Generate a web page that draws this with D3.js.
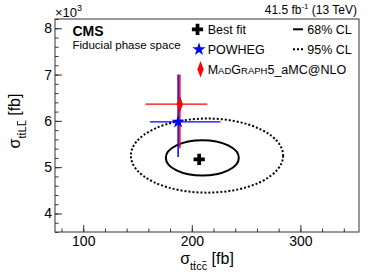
<!DOCTYPE html>
<html>
<head>
<meta charset="utf-8">
<script src="https://cdn.jsdelivr.net/npm/d3@7"></script>
<style>
    body { margin: 0; background: #fff; }
    svg { display: block; font-family: 'Liberation Sans', Arial, sans-serif; }
</style>
</head>
<body>
<svg id="chart" width="374" height="280"></svg>
<script>
// values (x: sigma ttcc in fb, y: sigma ttLL in 10^3 fb)
const xTicks = [100, 200, 300];
const yTicks = [4, 5, 6, 7, 8];

const bestFitX = [206.8];
const bestFitY = [5.17];

const genNames = ['POWHEG', 'MadGraph5_aMC@NLO'];
const genX = [187.4, 189.0];
const genY = [5.98, 6.36];
const genXLo = [161.4, 157.4];
const genXHi = [226.4, 214.3];
const genYLo = [5.22, 5.41];
const genYHi = [7.0, 7.0];

const clNames = ['68% CL', '95% CL'];
const clCx = [209.7, 214.0];
const clCy = [5.20, 5.25];
const clRx = [33.6, 70.1];
const clRy = [0.38, 0.80];

const svg = d3.select('#chart');
const W = 374, H = 280;
const m = {left: 55, right: 15, top: 19, bottom: 48};

const x = d3.scaleLinear().domain([74, 354]).range([m.left, W - m.right]);
const y = d3.scaleLinear().domain([3.6, 8.2]).range([H - m.bottom, m.top]);

const axisColor = '#333';

// frame
svg.append('rect')
    .attr('x', m.left).attr('y', m.top)
    .attr('width', W - m.right - m.left).attr('height', H - m.bottom - m.top)
    .attr('fill', 'none').attr('stroke', axisColor).attr('stroke-width', 1);

// axes, ticks pointing inwards
function styleAxis(g) {
    g.select('.domain').remove();
    g.selectAll('line').attr('stroke', axisColor);
}

svg.append('g')
    .attr('transform', 'translate(0,' + (H - m.bottom) + ')')
    .call(d3.axisBottom(x).tickValues(d3.range(80, 354, 20)).tickSize(-3.5).tickFormat(''))
    .call(styleAxis);
svg.append('g')
    .attr('transform', 'translate(0,' + (H - m.bottom) + ')')
    .call(d3.axisBottom(x).tickValues(xTicks).tickSize(-7).tickPadding(4))
    .call(styleAxis)
    .call(g => g.selectAll('text').attr('font-size', 14).attr('fill', '#000'));

svg.append('g')
    .attr('transform', 'translate(' + m.left + ',0)')
    .call(d3.axisLeft(y).tickValues(d3.range(3.6, 8.21, 0.2)).tickSize(-3.5).tickFormat(''))
    .call(styleAxis);
svg.append('g')
    .attr('transform', 'translate(' + m.left + ',0)')
    .call(d3.axisLeft(y).tickValues(yTicks).tickSize(-7).tickPadding(3).tickFormat(d3.format('d')))
    .call(styleAxis)
    .call(g => g.selectAll('text').attr('font-size', 14).attr('fill', '#000'));

// x10^3 exponent
const expo = svg.append('text').attr('x', 55).attr('y', 17).attr('font-size', 13).text('\u00d710');
expo.append('tspan').attr('font-size', 9).attr('dy', -6).text('3');

// axis titles: sigma with subscript t tbar X Xbar, bars drawn as lines over chars 2 and 4
function sigmaTitle(g, sub) {
    const el = g.append('text').attr('text-anchor', 'middle').attr('font-size', 16);
    el.append('tspan').text('\u03c3');
    el.append('tspan').attr('font-size', 11).attr('dy', 6).text('tt' + sub + sub);
    el.append('tspan').attr('dy', -6).text(' [fb]');
    const node = el.node();
    [2, 4].forEach(ci => {
        const b = node.getExtentOfChar(ci);
        g.append('line')
            .attr('x1', b.x + 0.8).attr('x2', b.x + b.width - 0.8)
            .attr('y1', b.y + 1.5).attr('y2', b.y + 1.5)
            .attr('stroke', '#000').attr('stroke-width', 0.8);
    });
}
sigmaTitle(svg.append('g').attr('transform', 'translate(207,264)'), 'c');
sigmaTitle(svg.append('g').attr('transform', 'translate(20,121) rotate(-90)'), 'L');

// top labels
const lumi = svg.append('text').attr('x', 357).attr('y', 14).attr('text-anchor', 'end').attr('font-size', 12);
lumi.append('tspan').text('41.5 fb');
lumi.append('tspan').attr('font-size', 8).attr('dy', -5).text('-1');
lumi.append('tspan').attr('dy', 5).text(' (13 TeV)');

svg.append('text').attr('x', 72.5).attr('y', 35.7).attr('font-size', 14).attr('font-weight', 'bold').text('CMS');
svg.append('text').attr('x', 72.5).attr('y', 49).attr('font-size', 11.5).text('Fiducial phase space');

// confidence contours
const clDash = [null, '2,2'];
const plot = svg.append('g');
plot.selectAll('ellipse.cl')
    .data(clNames)
    .join('ellipse')
    .attr('class', 'cl')
    .attr('cx', (d, i) => x(clCx[i]))
    .attr('cy', (d, i) => y(clCy[i]))
    .attr('rx', (d, i) => x(clCx[i] + clRx[i]) - x(clCx[i]))
    .attr('ry', (d, i) => y(clCy[i]) - y(clCy[i] + clRy[i]))
    .attr('fill', 'none')
    .attr('stroke', '#000')
    .attr('stroke-width', 2)
    .attr('stroke-dasharray', (d, i) => clDash[i]);

// markers
const genColors = ['#0000ff', '#ff0000'];
const crossPath = d3.symbol(d3.symbolCross, 70)();
const starPath = d3.symbol(d3.symbolStar, 55)();
const diamondPath = d3.symbol(d3.symbolDiamond, 60)();
const genShapes = [
    {path: starPath, sx: 1, sy: 1},
    {path: diamondPath, sx: 0.75, sy: 1.15}
];

plot.selectAll('path.best')
    .data(bestFitX)
    .join('path')
    .attr('class', 'best')
    .attr('d', crossPath)
    .attr('transform', (d, i) => 'translate(' + x(d) + ',' + y(bestFitY[i]) + ')')
    .attr('fill', '#000');

genNames.forEach((name, i) => {
    const g = plot.append('g');
    g.append('line')
        .attr('x1', x(genXLo[i])).attr('x2', x(genXHi[i]))
        .attr('y1', y(genY[i])).attr('y2', y(genY[i]))
        .attr('stroke', genColors[i]).attr('stroke-width', 1.3);
    g.append('line')
        .attr('x1', x(genX[i])).attr('x2', x(genX[i]))
        .attr('y1', y(genYLo[i])).attr('y2', y(genYHi[i]))
        .attr('stroke', genColors[i]).attr('stroke-width', 1.5);
});
genNames.forEach((name, i) => {
    plot.append('path')
        .attr('d', genShapes[i].path)
        .attr('transform', 'translate(' + x(genX[i]) + ',' + y(genY[i]) + ') scale(' + genShapes[i].sx + ',' + genShapes[i].sy + ')')
        .attr('fill', genColors[i]);
});

// legend
const leg = svg.append('g').attr('font-size', 12.5);
const rowY = [29.3, 49.3, 69.3];
leg.append('path').attr('d', crossPath)
    .attr('transform', 'translate(197.5,' + rowY[0] + ')').attr('fill', '#000');
leg.append('text').attr('x', 207.7).attr('y', rowY[0] + 4.3).text('Best fit');
genNames.forEach((name, i) => {
    const cx = i === 0 ? 199 : 200.5;
    leg.append('path').attr('d', genShapes[i].path)
        .attr('transform', 'translate(' + cx + ',' + rowY[i + 1] + ') scale(' + genShapes[i].sx + ',' + genShapes[i].sy + ')')
        .attr('fill', genColors[i]);
    const t = leg.append('text').attr('x', 207.7).attr('y', rowY[i + 1] + 4.3);
    if (name.startsWith('MadGraph')) {
        // small caps for MadGraph
        t.append('tspan').text('M');
        t.append('tspan').attr('font-size', 9.5).text('AD');
        t.append('tspan').text('G');
        t.append('tspan').attr('font-size', 9.5).text('RAPH');
        t.append('tspan').text('5_aMC@NLO');
    } else {
        t.text(name);
    }
});
clNames.forEach((name, i) => {
    leg.append('line')
        .attr('x1', 293).attr('x2', 303)
        .attr('y1', rowY[i]).attr('y2', rowY[i])
        .attr('stroke', '#000').attr('stroke-width', 2)
        .attr('stroke-dasharray', clDash[i]);
    leg.append('text').attr('x', 307.3).attr('y', rowY[i] + 4.3).text(name);
});
</script>
</body>
</html>
